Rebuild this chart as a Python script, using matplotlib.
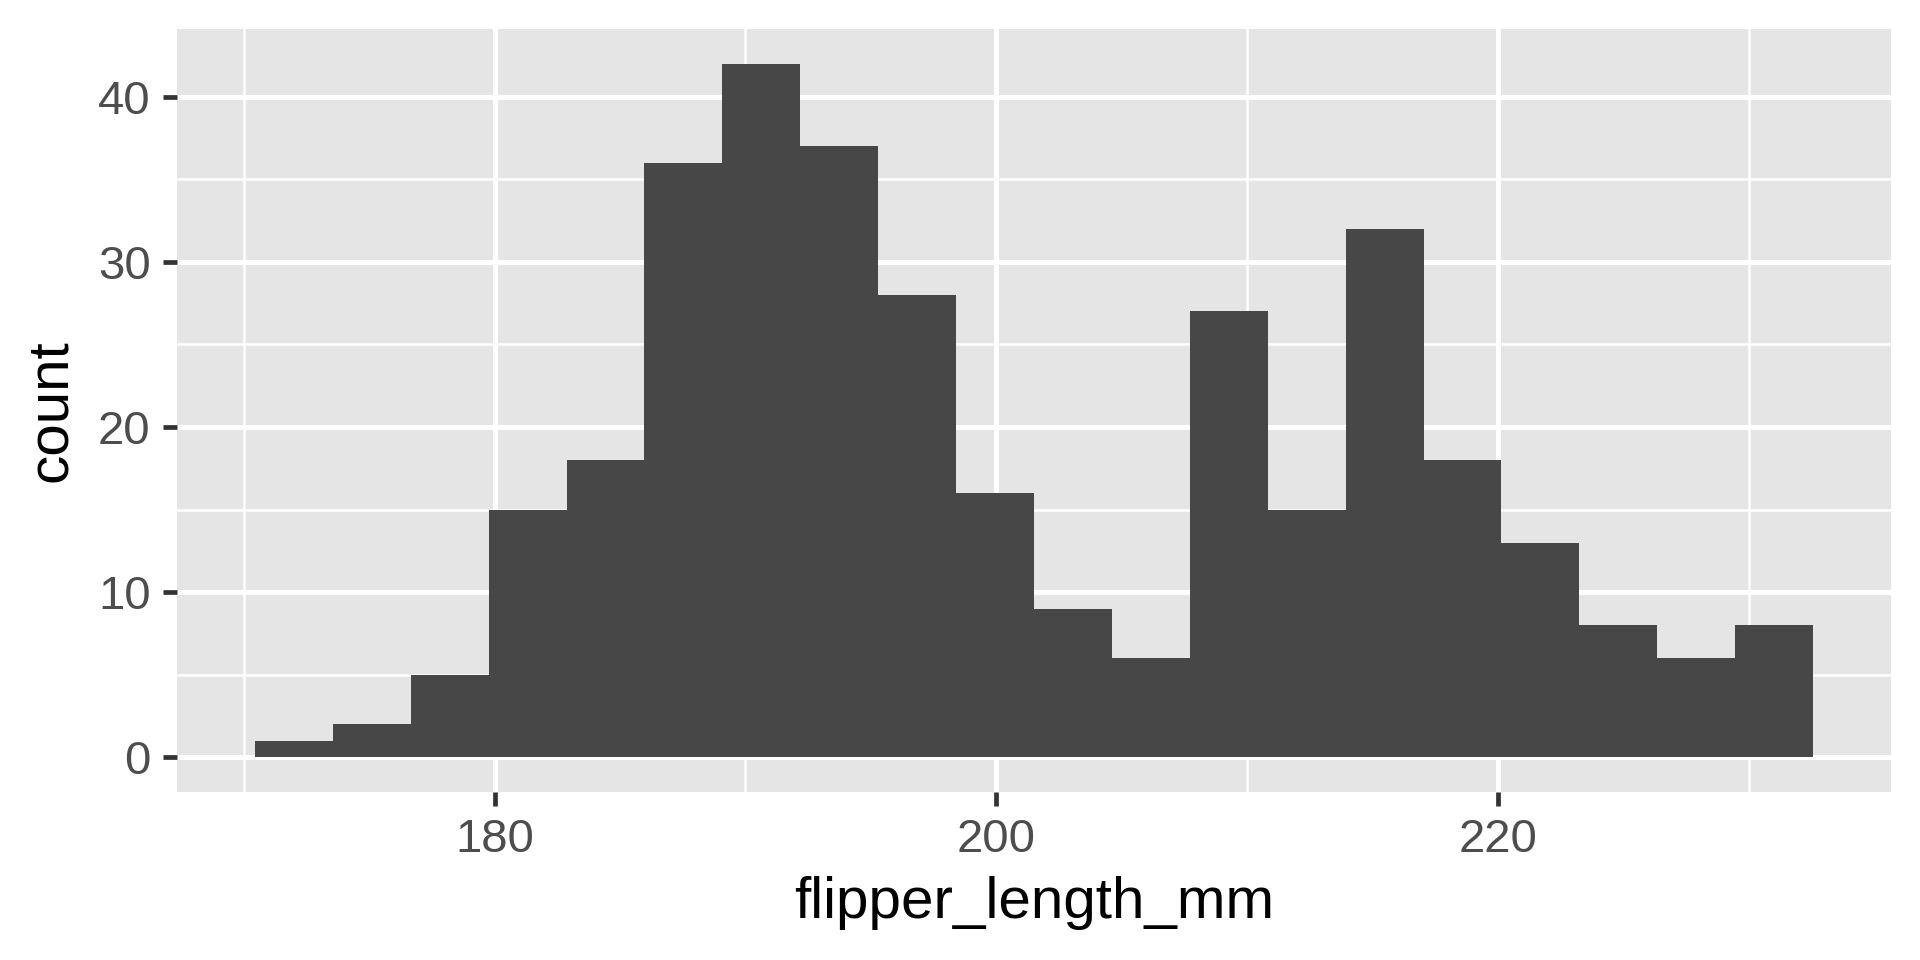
import numpy as np
import matplotlib
matplotlib.use("Agg")
import matplotlib.pyplot as plt

# --- Data (20 bins) ---
flipper_min = 172
flipper_max = 231
n_bins = 20
counts = [1, 2, 5, 15, 18, 36, 42, 37, 28, 16, 9, 6, 27, 15, 32, 18, 13, 8, 6, 8]
x_ticks = [180, 200, 220]
y_ticks = [0, 10, 20, 30, 40]

# ggplot-style bins: first bin centred on the min, last on the max
binwidth = (flipper_max - flipper_min) / (n_bins - 1)
edges = flipper_min - binwidth / 2 + binwidth * np.arange(n_bins + 1)

plt.rcParams['font.family'] = ['Liberation Sans', 'DejaVu Sans']

fig = plt.figure(figsize=(19.2, 9.6), dpi=100)
ax = fig.add_axes([0.0922, 0.175, 0.8927, 0.7948])
ax.set_facecolor('#E5E5E5')

# grid
x_lo, x_hi = edges[0], edges[-1]
xpad = (x_hi - x_lo) * 0.05
ax.set_xlim(x_lo - xpad, x_hi + xpad)
ypad = max(counts) * 0.05
ax.set_ylim(-ypad, max(counts) + ypad)

for v in [170, 190, 210, 230]:
    ax.axvline(v, color='white', lw=1.8, zorder=0)
for v in [5, 15, 25, 35]:
    ax.axhline(v, color='white', lw=1.8, zorder=0)
for v in x_ticks:
    ax.axvline(v, color='white', lw=3.6, zorder=0)
for v in y_ticks:
    ax.axhline(v, color='white', lw=3.6, zorder=0)

ax.bar(edges[:-1], counts, width=binwidth, align='edge', color='#474747',
       linewidth=0, zorder=2)

ax.set_xticks(x_ticks)
ax.set_yticks(y_ticks)
ax.tick_params(axis='both', length=10, width=3.4, color='#333333',
               labelcolor='#4D4D4D', labelsize=34)
ax.tick_params(axis='x', pad=9)
ax.tick_params(axis='y', pad=9)

for s in ax.spines.values():
    s.set_visible(False)

ax.set_xlabel('flipper_length_mm', fontsize=42, color='black', labelpad=10)
ax.set_ylabel('count', fontsize=42, color='black', labelpad=14)

fig.savefig('out.png', dpi=100)
